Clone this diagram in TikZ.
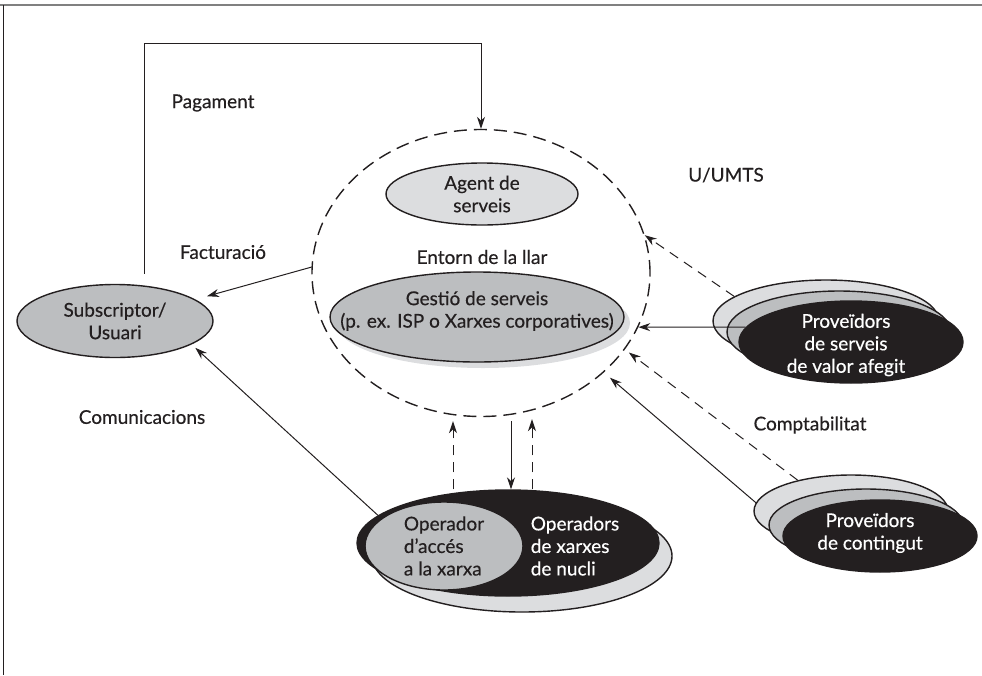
\documentclass[tikz,border=0pt]{standalone}
\usepackage{fontspec}
\setmainfont{Lato}[FakeBold=0.4]
\usepackage{tikz}
\usetikzlibrary{shapes.geometric}
\usetikzlibrary{arrows.meta}

\definecolor{lgray}{HTML}{DCDDDF}
\definecolor{mgray}{HTML}{BCBEC0}
\definecolor{ink}{HTML}{231F20}

\tikzset{
  oval/.style={draw=ink, ellipse, line width=1.4pt, inner sep=0pt},
  lbl/.style={align=center, text=ink},
  arr/.style={-{Stealth[length=12pt,width=8pt]}, line width=1pt, draw=ink},
  darr/.style={arr, dash pattern=on 10pt off 7pt},
  llardash/.style={dash pattern=on 13pt off 7pt}
}

\begin{document}
\begin{tikzpicture}[x=1pt,y=-1pt,font=\fontsize{19}{22.5}\selectfont]
\useasboundingbox (0,0) rectangle (982,675);
\draw[line width=2pt, gray] (0,5) -- (982,5);
\draw[line width=0.8pt, ink] (3,5) -- (3,675);

% subscriptor
\node[oval, fill=mgray, minimum width=196pt, minimum height=73pt] (sub) at (115,321) {};
\node[lbl] (subtxt) at (sub) {Subscriptor/\\Usuari};

% entorn de la llar
\node[oval, llardash, minimum width=338pt, minimum height=287pt] (llar) at (481,273) {};
\node[oval, fill=lgray, minimum width=192pt, minimum height=62pt] (agent) at (482,194) {};
\node[lbl] (agtxt) at (agent) {Agent de\\serveis};
\node[lbl] (entorn) at (482,257) {Entorn de la llar};
\node[ellipse, fill=lgray, inner sep=0pt, minimum width=294pt, minimum height=90pt] (gshad) at (483,323) {};
\node[oval, fill=mgray, minimum width=294pt, minimum height=90pt] (gest) at (477,317) {};
\node[lbl] (gtxt) at (477,311) {Gestió de serveis\\(p. ex. ISP o Xarxes corporatives)};

% operadors
\node[oval, fill=lgray, minimum width=300pt, minimum height=112pt] (core2) at (522,556) {};
\node[oval, fill=ink, minimum width=302pt, minimum height=106pt] (core) at (508,543) {};
\node[oval, fill=mgray, minimum width=158pt, minimum height=88pt] (acc) at (444,546) {};
\node[lbl, align=left] (acctxt) at (acc) {Operador\\d’accés\\a la xarxa};
\node[lbl, align=left, text=white] (coretxt) at (575,546) {Operadors\\de xarxes\\de nucli};

% proveidors de serveis
\node[oval, fill=lgray, minimum width=226pt, minimum height=82pt] (vas2) at (826,321) {};
\node[oval, fill=mgray, minimum width=224pt, minimum height=82pt] (vas1) at (839,332) {};
\node[oval, fill=ink, minimum width=224pt, minimum height=82pt] (vas) at (851,342) {};
\node[lbl, text=white] (vastxt) at (846,345) {Proveïdors\\de serveis\\de valor afegit};

% proveidors de contingut
\node[oval, fill=lgray, minimum width=194pt, minimum height=72pt] (cont2) at (851,511) {};
\node[oval, fill=mgray, minimum width=194pt, minimum height=72pt] (cont1) at (866,525) {};
\node[oval, fill=ink, minimum width=194pt, minimum height=72pt] (cont) at (880,536) {};
\node[lbl, text=white] (conttxt) at (870,533) {Proveïdors\\de contingut};

% etiquetes
\node[lbl] (pag) at (213,103) {Pagament};
\node[lbl] (fact) at (223,252) {Facturació};
\node[lbl] (comu) at (142,417) {Comunicacions};
\node[lbl] (umts) at (726,175) {U/UMTS};
\node[lbl] (compt) at (810,425) {Comptabilitat};

% fluxos
\coordinate (top) at (0,43);
\coordinate (a1) at (453,0);
\coordinate (a2) at (511,0);
\coordinate (a3) at (532,0);
\draw[arr, shorten <=12pt] (sub.50) -- (sub.50 |- top) -| (llar.north);
\draw[arr, shorten >=12pt] (llar.178) -- (sub.15);
\draw[arr, shorten >=5pt] (core.168) -- (sub.-17);
\draw[darr, shorten >=4pt] (a1 |- core.north) -- (a1 |- llar.south);
\draw[arr, shorten <=4pt] (a2 |- llar.south) -- (a2 |- core.north);
\draw[darr, shorten >=2pt] (a3 |- core.north) -- (a3 |- llar.south);
\draw[arr] (vas.172) -- (llar.-19);
\draw[darr] (vas2.165) -- (llar.13);
\draw[darr, shorten >=5pt] (cont2.150) -- (llar.-28);
\draw[arr, shorten >=8pt] (cont2.175) -- (llar.-39);
\end{tikzpicture}
\end{document}
